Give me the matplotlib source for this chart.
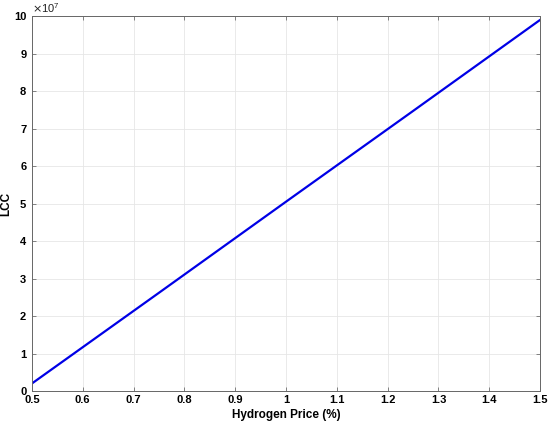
import matplotlib
matplotlib.use("Agg")
import matplotlib.pyplot as plt

# hydrogen price factor vs life cycle cost
price = [0.5, 0.75, 1.0, 1.25, 1.5]
lcc = [0.2e7, 2.62e7, 5.05e7, 7.47e7, 9.9e7]

xticks = [0.5, 0.6, 0.7, 0.8, 0.9, 1.0, 1.1, 1.2, 1.3, 1.4, 1.5]
xticklabels = ["0.5", "0.6", "0.7", "0.8", "0.9", "1", "1.1", "1.2", "1.3", "1.4", "1.5"]
yticks = list(range(0, 11))

plt.rcParams["font.family"] = ["Liberation Sans", "DejaVu Sans"]

fig = plt.figure(figsize=(5.5, 4.25), dpi=100)
ax = fig.add_axes([0.058, 0.08, 0.924, 0.882])

ax.plot(price, [v / 1e7 for v in lcc], color="#0000e6", linewidth=1.6)

ax.set_xlim(0.5, 1.5)
ax.set_ylim(0, 10)
ax.set_xticks(xticks)
ax.set_xticklabels(xticklabels)
ax.set_yticks(yticks)

ax.grid(True, color="#e6e6e6", linewidth=0.6)
ax.set_axisbelow(True)
ax.tick_params(direction="in", length=3, width=0.5, color="#555555",
               top=True, right=True, labelsize=8, pad=3)
ax.tick_params(axis="y", pad=4)
for lab in ax.get_xticklabels() + ax.get_yticklabels():
    lab.set_fontweight("bold")
for sp in ax.spines.values():
    sp.set_color("#666666")
    sp.set_linewidth(0.7)

ax.text(0.0, 1.003, r"$\times\mathregular{10^{7}}$", transform=ax.transAxes,
        fontsize=8, ha="left", va="bottom", color="#222222")

ax.set_xlabel("Hydrogen Price (%)", fontsize=8.5, fontweight="bold", labelpad=3)
ax.set_ylabel("LCC", fontsize=8.5, fontweight="bold", labelpad=1)

fig.savefig("out.png", dpi=100)
